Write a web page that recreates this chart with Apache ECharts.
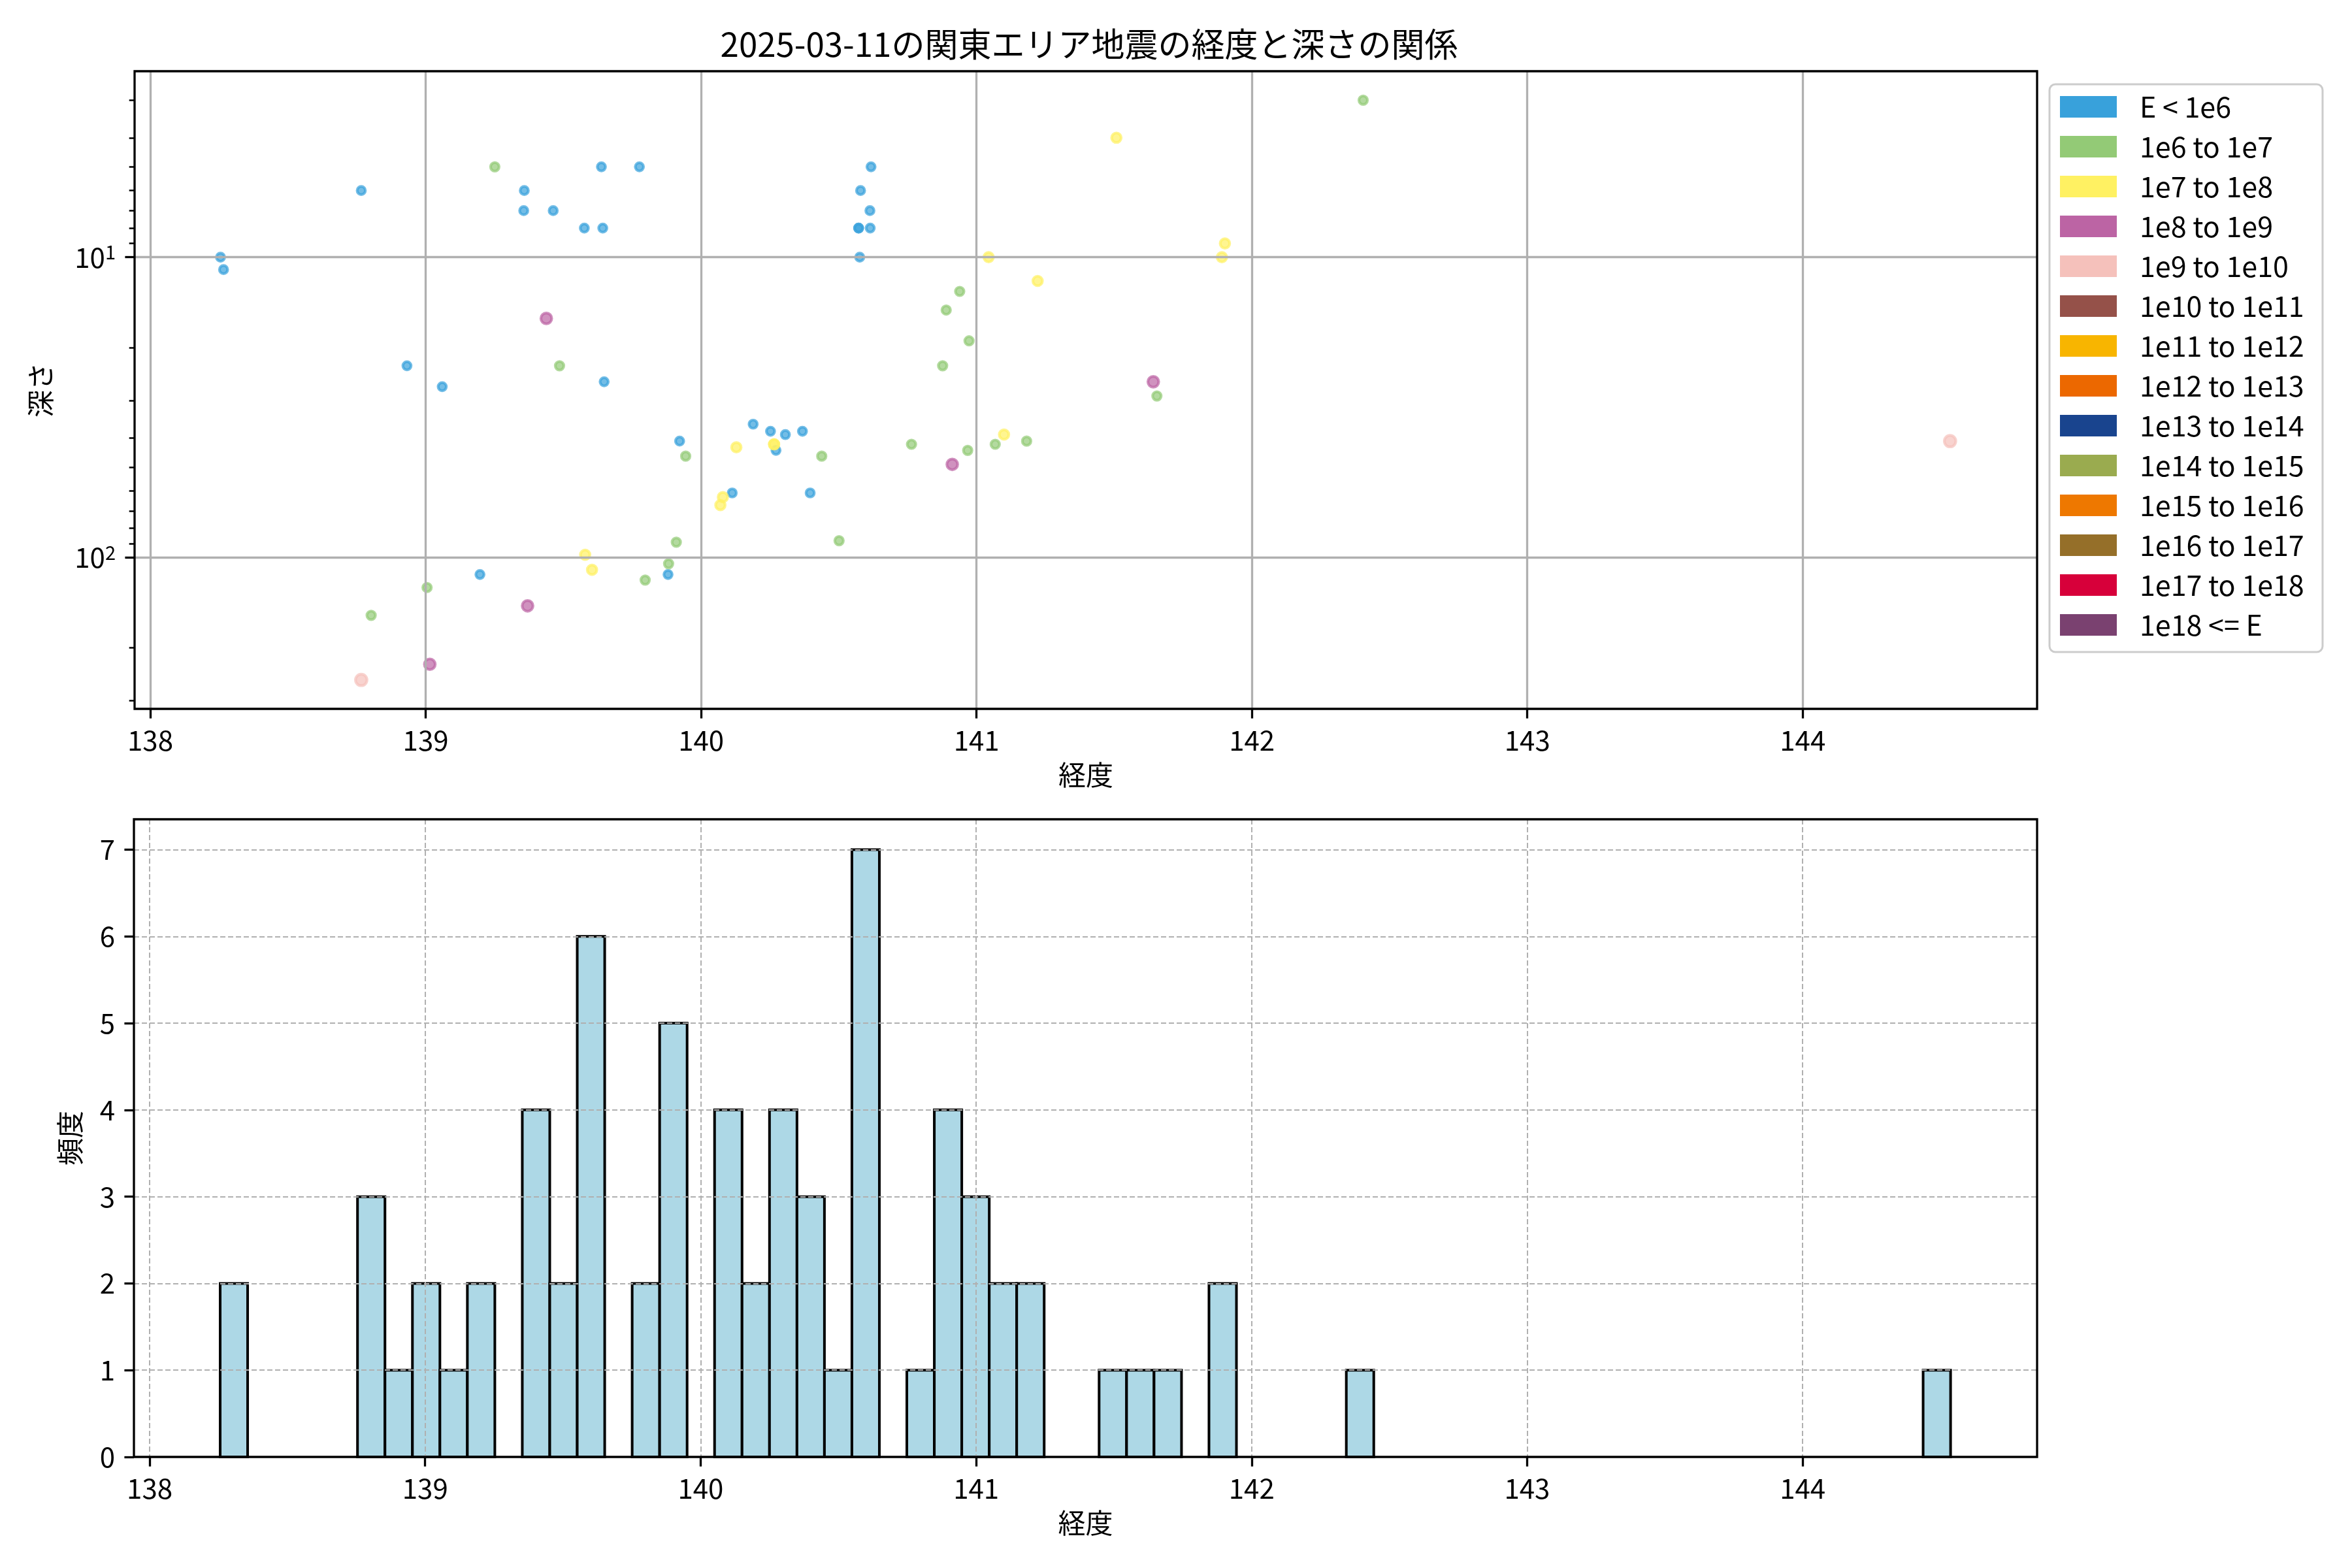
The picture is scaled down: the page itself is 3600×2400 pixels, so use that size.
<!DOCTYPE html>
<html>
<head>
<meta charset="utf-8">
<script src="https://cdn.jsdelivr.net/npm/echarts@6/dist/echarts.min.js"></script>
<style>html,body{margin:0;padding:0;background:#fff}#c{width:3600px;height:2400px}</style>
</head>
<body>
<div id="c"></div>
<script>
// ---------------- data ----------------
const chartTitle = '2025-03-11の関東エリア地震の経度と深さの関係';
const energyClasses = ['E < 1e6','1e6 to 1e7','1e7 to 1e8','1e8 to 1e9','1e9 to 1e10','1e10 to 1e11','1e11 to 1e12','1e12 to 1e13','1e13 to 1e14','1e14 to 1e15','1e15 to 1e16','1e16 to 1e17','1e17 to 1e18','1e18 <= E'];
const classColors = ['#38a1db','#93ca76','#fff162','#bc64a4','#f5c1bb','#955149','#f8b500','#ec6800','#19448e','#9aab4f','#ee7800','#956f29','#d7003a','#7a4170'];

// [longitude, depth km]
const quakesE6 = [
  [138.255,10],[138.266,11],[138.766,6],[139.358,6],[139.356,7],[139.463,7],[139.638,5],[139.776,5],
  [139.576,8],[139.643,8],[138.932,23],[139.060,27],[139.648,26],[140.189,36],[140.252,38],[140.306,39],
  [140.368,38],[139.922,41],[140.272,44],[140.113,61],[140.396,61],[139.880,114],[139.197,114],
  [140.617,5],[140.579,6],[140.613,7],[140.572,8],[140.572,8],[140.614,8],[140.576,10]
];
const quakesE7 = [
  [139.251,5],[139.486,23],[139.944,46],[140.438,46],[140.501,88],[139.910,89],[139.882,105],[139.797,119],
  [139.005,126],[138.802,156],[142.404,3],[140.939,13],[140.890,15],[140.973,19],[140.877,23],[141.655,29],
  [140.764,42],[140.968,44],[141.068,42],[141.182,41]
];
const quakesE8 = [
  [140.128,43],[140.265,42],[140.265,42],[140.079,63],[140.070,67],[139.579,98],[139.604,110],
  [141.508,4],[141.044,10],[141.902,9],[141.891,10],[141.222,12],[141.100,39]
];
const quakesE9 = [[139.438,16],[139.370,145],[139.015,227],[141.642,26],[140.912,49]];
const quakesE10 = [[138.766,256],[144.535,41]];
const quakesByClass = [quakesE6, quakesE7, quakesE8, quakesE9, quakesE10, [], [], [], [], [], [], [], [], []];

// histogram of longitude: 63 equal bins over [min, max] of longitudes
const histRange = [138.256, 144.537];
const histCounts = [
  2,0,0,0,0,3,1,2,1,2,
  0,4,2,6,0,2,5,0,4,2,
  4,3,1,7,0,1,4,3,2,2,
  0,0,1,1,1,0,2,0,0,0,
  0,1,0,0,0,0,0,0,0,0,
  0,0,0,0,0,0,0,0,0,0,
  0,0,1
];

const lonTicks = [138,139,140,141,142,143,144];
const depthMajorTicks = [10,100];
const depthMinorTicks = [3,4,5,6,7,8,9,20,30,40,50,60,70,80,90,200,300];
const countTicks = [0,1,2,3,4,5,6,7];

// ---------------- styles ----------------
const FONT = '"Noto Sans CJK JP", "Noto Sans", sans-serif';
const markerSizes = [12.5,13,14.5,16.5,17.5,18,18,18,18,18,18,18,18,18];
const LON_MIN = 137.943, LON_MAX = 144.851;
const DEPTH_MIN = 2.402, DEPTH_MAX = 319.6;

const histBins = [];
const binW = (histRange[1] - histRange[0]) / histCounts.length;
histCounts.forEach((c, i) => {
  if (c > 0) histBins.push([histRange[0] + i * binW, histRange[0] + (i + 1) * binW, c]);
});

const tickStyle = {color:'#000', width:3.3};
const labelStyle = {color:'#000', fontSize:42, fontFamily:FONT};

const scatterSeries = energyClasses.map((name, i) => ({
  name: name,
  type: 'scatter',
  xAxisIndex: 0,
  yAxisIndex: 0,
  z: 1,
  silent: true,
  symbolSize: markerSizes[i],
  data: quakesByClass[i],
  itemStyle: {color: classColors[i], opacity: 0.7, borderColor: classColors[i], borderWidth: 4.2}
}));

const option = {
  animation: false,
  backgroundColor: '#fff',
  textStyle: {fontFamily: FONT},
  title: {
    text: chartTitle, left: 1662, top: 37, textAlign: 'center',
    textStyle: {fontSize: 51, fontWeight: 'normal', color: '#000', fontFamily: FONT}
  },
  legend: {
    data: energyClasses,
    orient: 'vertical',
    left: 3137, top: 129,
    padding: [13, 16, 20, 16],
    itemWidth: 87, itemHeight: 33, itemGap: 18.0,
    icon: 'rect',
    itemStyle: {opacity: 1, borderWidth: 0},
    textStyle: {fontSize: 43, color: '#000', fontFamily: FONT, lineHeight: 33, padding: [0, 0, 0, 30], width: 264},
    borderColor: '#cccccc', borderWidth: 3, borderRadius: 9,
    backgroundColor: 'rgba(255,255,255,0.8)',
    selectedMode: false
  },
  grid: [
    {left: 206, top: 109, width: 2912, height: 976, show: true, borderColor: '#000', borderWidth: 3.3, backgroundColor: 'transparent', z: 6},
    {left: 205, top: 1254, width: 2913, height: 976, show: true, borderColor: '#000', borderWidth: 3.3, backgroundColor: 'transparent', z: 6}
  ],
  xAxis: [
    {
      gridIndex: 0, type: 'value', min: LON_MIN, max: LON_MAX, z: 5,
      axisLine: {show: false},
      axisTick: {show: true, length: 14.6, lineStyle: tickStyle, customValues: lonTicks},
      axisLabel: Object.assign({customValues: lonTicks, margin: 27}, labelStyle),
      splitLine: {show: true, lineStyle: {color: '#b0b0b0', width: 3.3}},
      name: '経度', nameLocation: 'middle', nameGap: 80,
      nameTextStyle: {fontSize: 42, color: '#000', fontFamily: FONT}
    },
    {
      gridIndex: 1, type: 'value', min: LON_MIN, max: LON_MAX, z: 5,
      axisLine: {show: false},
      axisTick: {show: true, length: 14.6, lineStyle: tickStyle, customValues: lonTicks},
      axisLabel: Object.assign({customValues: lonTicks, margin: 27}, labelStyle),
      splitLine: {show: true, lineStyle: {color: '#b0b0b0', width: 2, type: [8, 4]}},
      name: '経度', nameLocation: 'middle', nameGap: 80,
      nameTextStyle: {fontSize: 42, color: '#000', fontFamily: FONT}
    }
  ],
  yAxis: [
    {
      gridIndex: 0, type: 'log', logBase: 10, inverse: true, min: DEPTH_MIN, max: DEPTH_MAX, position: 'left', z: 5,
      axisLine: {show: false},
      axisTick: {show: true, length: 14.6, lineStyle: tickStyle, customValues: depthMajorTicks},
      axisLabel: {
        customValues: depthMajorTicks, margin: 29, color: '#000', fontFamily: FONT,
        formatter: v => '{b|10}{s|' + Math.round(Math.log10(v)) + '}',
        rich: {
          b: {fontSize: 42, lineHeight: 44, color: '#000', fontFamily: FONT},
          s: {fontSize: 29, lineHeight: 29, verticalAlign: 'top', color: '#000', fontFamily: FONT}
        }
      },
      splitLine: {show: true, lineStyle: {color: '#b0b0b0', width: 3.3}},
      name: '深さ', nameLocation: 'middle', nameGap: 123,
      nameTextStyle: {fontSize: 42, color: '#000', fontFamily: FONT}
    },
    {
      gridIndex: 0, type: 'log', logBase: 10, inverse: true, min: DEPTH_MIN, max: DEPTH_MAX, position: 'left', offset: 0, z: 5,
      axisLine: {show: false},
      axisTick: {show: true, length: 8.3, lineStyle: {color: '#000', width: 2.5}, customValues: depthMinorTicks},
      axisLabel: {show: false},
      splitLine: {show: false}
    },
    {
      gridIndex: 1, type: 'value', min: 0, max: 7.35, z: 5,
      axisLine: {show: false},
      axisTick: {show: true, length: 14.6, lineStyle: tickStyle, customValues: countTicks},
      axisLabel: Object.assign({customValues: countTicks, margin: 29}, labelStyle),
      splitLine: {show: true, lineStyle: {color: '#b0b0b0', width: 2, type: [8, 4]}},
      name: '頻度', nameLocation: 'middle', nameGap: 77,
      nameTextStyle: {fontSize: 42, color: '#000', fontFamily: FONT}
    }
  ],
  series: scatterSeries.concat([{
    name: 'hist',
    type: 'custom',
    xAxisIndex: 1,
    yAxisIndex: 2,
    z: 1,
    silent: true,
    data: histBins,
    encode: {x: [0, 1], y: 2},
    renderItem: function (params, api) {
      const p0 = api.coord([api.value(0), api.value(2)]);
      const p1 = api.coord([api.value(1), 0]);
      return {
        type: 'rect',
        shape: {x: p0[0], y: p0[1], width: p1[0] - p0[0], height: p1[1] - p0[1]},
        style: {fill: '#add8e6', stroke: '#000', lineWidth: 4}
      };
    }
  }])
};

const chart = echarts.init(document.getElementById('c'), null, {renderer: 'canvas'});
chart.setOption(option);
</script>
</body>
</html>
